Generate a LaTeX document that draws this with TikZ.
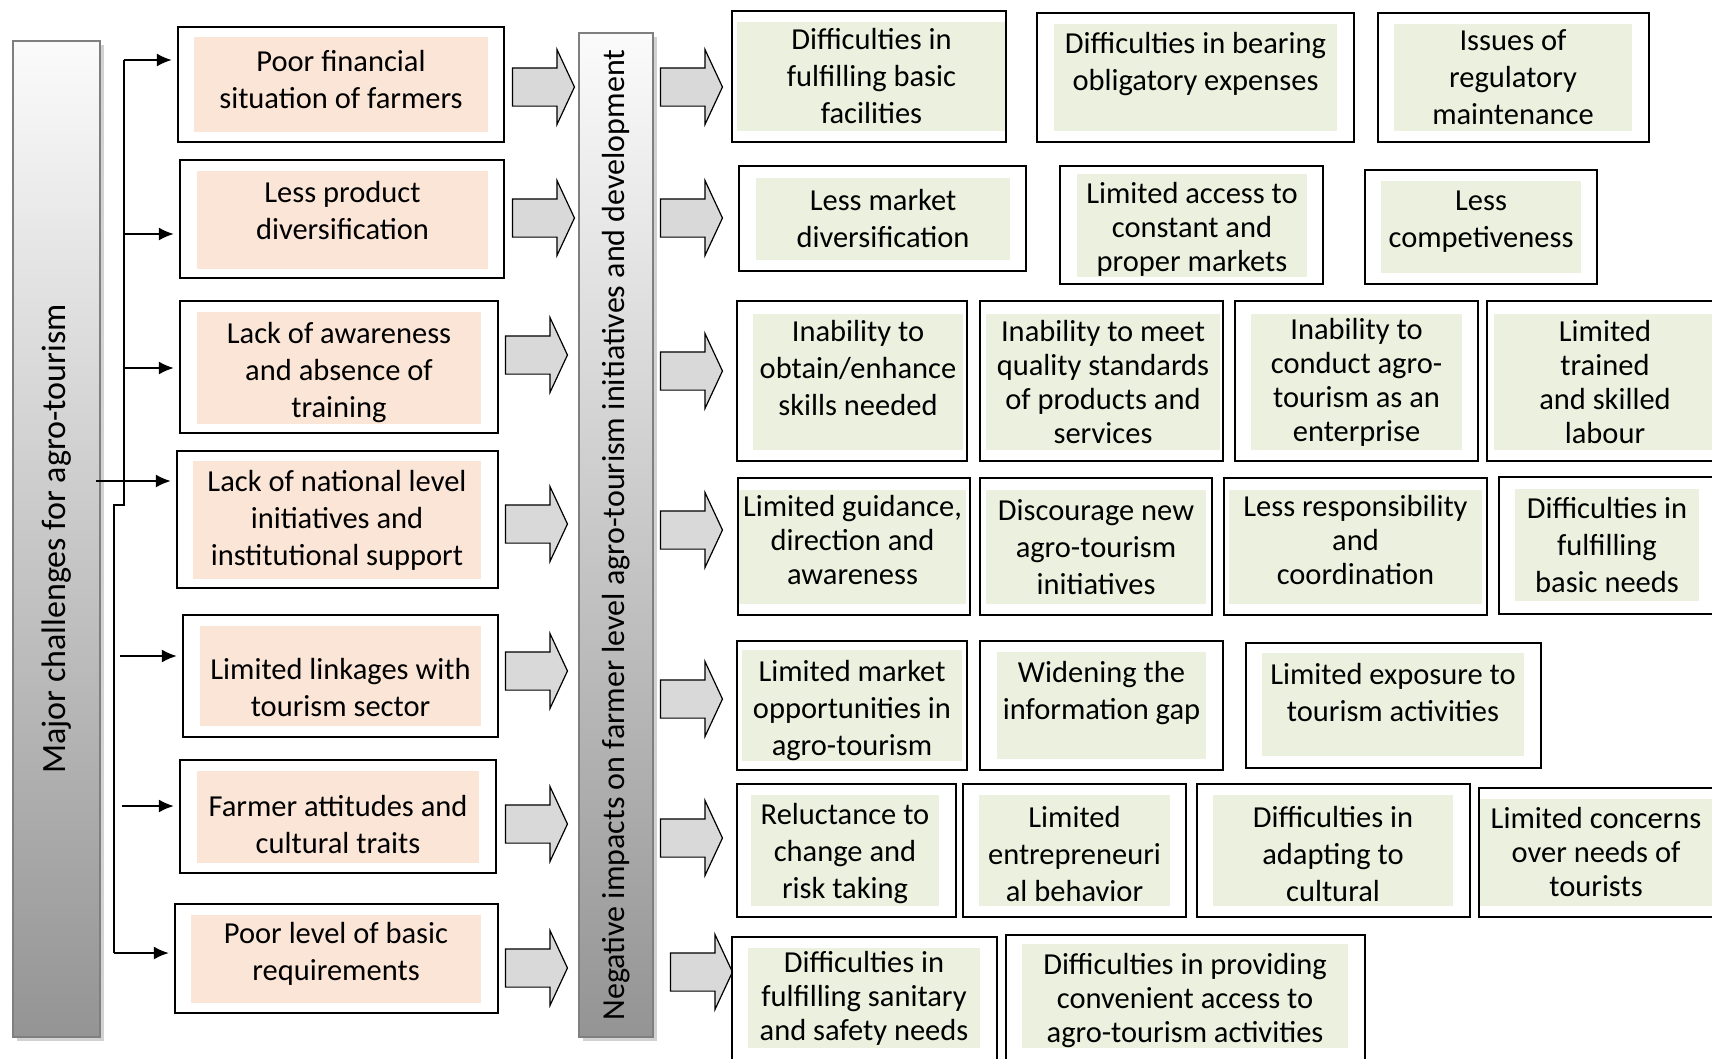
\documentclass[tikz,border=0pt]{standalone}
\usepackage{fontspec}
\setmainfont{Carlito}
\usepackage{tikz}
\usetikzlibrary{shapes.arrows,arrows.meta,shadows}

\definecolor{peach}{HTML}{FBE5D6}
\definecolor{leaf}{HTML}{EBF1DE}
\definecolor{arrowgray}{HTML}{D9D9D9}
\definecolor{barlight}{HTML}{FBFBFB}
\definecolor{bardark}{HTML}{949494}
\definecolor{barline}{HTML}{7F7F7F}

\tikzstyle{frame} = [rectangle, draw=black, line width=2.2pt, inner sep=0pt]
\tikzstyle{cause} = [rectangle, fill=peach, inner sep=0pt, align=center, font=\fontsize{30.5}{37}\selectfont]
\tikzstyle{impact} = [rectangle, fill=leaf, inner sep=0pt, align=center, font=\fontsize{30.5}{37}\selectfont]
\tikzstyle{tight} = [font=\fontsize{30.5}{34}\selectfont]
\tikzstyle{bar} = [rectangle, draw=barline, line width=2pt, top color=barlight, bottom color=bardark, drop shadow={shadow xshift=4pt, shadow yshift=-4pt, fill=black!35}]
\tikzstyle{bartext} = [inner sep=0pt, font=\fontsize{32}{38}\selectfont]
\tikzstyle{fatarrow} = [single arrow, draw=black, line width=1.2pt, fill=arrowgray, minimum height=62pt, inner xsep=0pt, inner ysep=18.5pt, single arrow head extend=18.5pt, single arrow tip angle=130]
\tikzstyle{spine} = [line width=2pt]
\tikzstyle{arrow} = [line width=2pt, -{Latex[length=15pt,width=13pt]}, shorten >=5pt]

\begin{document}
\begin{tikzpicture}[x=1pt,y=-1pt]
\useasboundingbox (0,0) rectangle (1712,1058);

% the two grey bars
\node[bar, minimum width=87, minimum height=996] (major) at (56.5,539) {};
\node[bartext, rotate=90, font=\fontsize{34}{40}\selectfont] (majortext) at (major.center) {Major challenges for agro-tourism};
\node[bar, minimum width=74, minimum height=1004] (impact) at (616,535) {};
\node[bartext, rotate=90] (impacttext) at (impact.center) {Negative impacts on farmer level agro-tourism initiatives and development};

% challenges
\node[cause, minimum width=294, minimum height=95] (c1) at (341,84.5) {Poor financial\\situation of farmers\\[-37pt]\strut};
\node[frame, minimum width=326, minimum height=115] (f1) at (341,84.5) {};
\node[cause, minimum width=291, minimum height=98] (c2) at (342.5,220) {Less product\\diversification\\[-28pt]\strut};
\node[frame, minimum width=324, minimum height=118] (f2) at (342,219) {};
\node[cause, minimum width=284, minimum height=112] (c3) at (339,368) {\strut\\[-33pt]Lack of awareness\\and absence of\\training};
\node[frame, minimum width=318, minimum height=132] (f3) at (339,367) {};
\node[cause, minimum width=288, minimum height=118] (c4) at (337,520) {Lack of national level\\initiatives and\\institutional support};
\node[frame, minimum width=321, minimum height=137] (f4) at (337.5,519.5) {};
\node[cause, minimum width=281, minimum height=100] (c5) at (340.5,676) {\strut\\[-19.5pt]Limited linkages with\\tourism sector};
\node[frame, minimum width=315, minimum height=122] (f5) at (340.5,676) {};
\node[cause, minimum width=282, minimum height=92] (c6) at (338,817) {\strut\\[-26.5pt]Farmer attitudes and\\cultural traits};
\node[frame, minimum width=316, minimum height=113] (f6) at (338,816.5) {};
\node[cause, minimum width=290, minimum height=88] (c7) at (336,959) {Poor level of basic\\requirements\\[-32pt]\strut};
\node[frame, minimum width=323, minimum height=109] (f7) at (336.5,958.5) {};

% branching lines
\coordinate (top) at (124,60);
\coordinate (knee) at (124,505);
\coordinate (knee2) at (114,505);
\coordinate (foot) at (114,953);
\coordinate (s2) at (124,234);
\coordinate (s3) at (124,368);
\coordinate (s4) at (96,481);
\coordinate (s5) at (120,656);
\coordinate (s6) at (122,806);
\draw[spine] (top) -- (knee) -- (knee2) -- (foot);
\foreach \s/\f in {top/f1, s2/f2, s3/f3, s4/f4, s5/f5, s6/f6, foot/f7}
  \draw[arrow] (\s) -- (\s -| \f.west);

% block arrows
\node[fatarrow] (la1) at (539,87) {};
\node[fatarrow] (la2) at (539,218) {};
\node[fatarrow] (la3) at (532,355) {};
\node[fatarrow] (la4) at (532,524) {};
\node[fatarrow] (la5) at (532,671) {};
\node[fatarrow] (la6) at (532,824) {};
\node[fatarrow] (la7) at (532,968) {};
\node[fatarrow] (ra1) at (687,87) {};
\node[fatarrow] (ra2) at (687,218) {};
\node[fatarrow] (ra3) at (687,371) {};
\node[fatarrow] (ra4) at (687,530) {};
\node[fatarrow] (ra5) at (687,699) {};
\node[fatarrow] (ra6) at (687,838) {};
\node[fatarrow] (ra7) at (697,972) {};

% impacts, row 1
\node[impact, minimum width=269, minimum height=109] (i11) at (871.5,76.5) {Difficulties in\\fulfilling basic\\facilities};
\node[frame, minimum width=274, minimum height=131] (g11) at (869,76.5) {};
\node[impact, minimum width=283, minimum height=107] (i12) at (1195.5,77.5) {Difficulties in bearing\\obligatory expenses\\[-15pt]\strut};
\node[frame, minimum width=317, minimum height=129] (g12) at (1195.5,77.5) {};
\node[impact, minimum width=238, minimum height=107] (i13) at (1513,77.5) {Issues of\\regulatory\\maintenance};
\node[frame, minimum width=271, minimum height=129] (g13) at (1513.5,77.5) {};
% row 2
\node[impact, minimum width=254, minimum height=82] (i21) at (883,219) {Less market\\diversification};
\node[frame, minimum width=287, minimum height=105] (g21) at (882.5,218.5) {};
\node[impact, tight, minimum width=230, minimum height=95] (i22) at (1192,225.5) {\strut\\[-28pt]Limited access to\\constant and\\proper markets};
\node[frame, minimum width=263, minimum height=118] (g22) at (1191.5,225) {};
\node[impact, minimum width=200, minimum height=92] (i23) at (1481,227) {Less\\competiveness\\[-32pt]\strut};
\node[frame, minimum width=232, minimum height=114] (g23) at (1481,227) {};
% row 3
\node[impact, minimum width=210, minimum height=136] (i31) at (858,382) {Inability to\\obtain/enhance\\skills needed\\[-20pt]\strut};
\node[frame, minimum width=230, minimum height=160] (g31) at (852,381) {};
\node[impact, tight, minimum width=234, minimum height=136] (i32) at (1103,382) {Inability to meet\\quality standards\\of products and\\services};
\node[frame, minimum width=243, minimum height=160] (g32) at (1101.5,381) {};
\node[impact, tight, minimum width=211, minimum height=136] (i33) at (1356.5,382) {Inability to\\conduct agro-\\tourism as an\\enterprise};
\node[frame, minimum width=243, minimum height=160] (g33) at (1356.5,381) {};
\node[impact, tight, minimum width=222, minimum height=136] (i34) at (1605,382) {Limited\\trained\\and skilled\\labour};
\node[frame, minimum width=238, minimum height=160] (g34) at (1606,381) {};
% row 4
\node[impact, tight, minimum width=227, minimum height=114] (i41) at (852.5,547) {Limited guidance,\\direction and\\awareness\\[-29pt]\strut};
\node[frame, minimum width=232, minimum height=137] (g41) at (854,546.5) {};
\node[impact, minimum width=220, minimum height=114] (i42) at (1096,547) {Discourage new\\agro-tourism\\initiatives};
\node[frame, minimum width=232, minimum height=137] (g42) at (1096,546.5) {};
\node[impact, tight, minimum width=253, minimum height=114] (i43) at (1355.5,547) {Less responsibility\\and\\coordination\\[-29pt]\strut};
\node[frame, minimum width=263, minimum height=137] (g43) at (1355.5,546.5) {};
\node[impact, minimum width=184, minimum height=112] (i44) at (1607,545) {Difficulties in\\fulfilling\\basic needs};
\node[frame, minimum width=226, minimum height=137] (g44) at (1612,545.5) {};
% row 5
\node[impact, minimum width=220, minimum height=107] (i51) at (852,705.5) {\strut\\[-31pt]Limited market\\opportunities in\\agro-tourism};
\node[frame, minimum width=230, minimum height=129] (g51) at (852,705.5) {};
\node[impact, minimum width=209, minimum height=107] (i52) at (1101.5,705.5) {Widening the\\information gap\\[-17pt]\strut};
\node[frame, minimum width=243, minimum height=129] (g52) at (1101.5,705.5) {};
\node[impact, minimum width=262, minimum height=103] (i53) at (1393,704.5) {Limited exposure to\\tourism activities\\[-23pt]\strut};
\node[frame, minimum width=295, minimum height=125] (g53) at (1393.5,705.5) {};
% row 6
\node[impact, minimum width=188, minimum height=111] (i61) at (845,850.5) {\strut\\[-35pt]Reluctance to\\change and\\risk taking};
\node[frame, minimum width=219, minimum height=133] (g61) at (846.5,850.5) {};
\node[impact, minimum width=191, minimum height=111] (i62) at (1074.5,850.5) {\strut\\[-35pt]Limited\\entrepreneuri\\al behavior};
\node[frame, minimum width=223, minimum height=133] (g62) at (1074.5,850.5) {};
\node[impact, minimum width=240, minimum height=111] (i63) at (1333,850.5) {\strut\\[-35pt]Difficulties in\\adapting to\\cultural};
\node[frame, minimum width=273, minimum height=133] (g63) at (1333.5,850.5) {};
\node[impact, tight, minimum width=232, minimum height=107] (i64) at (1596,852.5) {Limited concerns\\over needs of\\tourists};
\node[frame, minimum width=246, minimum height=129] (g64) at (1602,852.5) {};
% row 7
\node[impact, tight, minimum width=232, minimum height=100] (i71) at (864,998) {Difficulties in\\fulfilling sanitary\\and safety needs};
\node[frame, minimum width=265, minimum height=133] (g71) at (864.5,1003.5) {};
\node[impact, tight, minimum width=326, minimum height=100] (i72) at (1185,996) {\strut\\[-28pt]Difficulties in providing\\convenient access to\\agro-tourism activities};
\node[frame, minimum width=359, minimum height=135] (g72) at (1185.5,1002.5) {};
\end{tikzpicture}
\end{document}
